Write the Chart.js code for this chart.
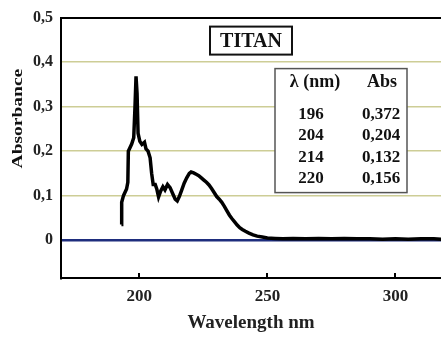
<!DOCTYPE html>
<html>
<head>
<meta charset="utf-8">
<script src="https://cdn.jsdelivr.net/npm/chart.js@4.4.1/dist/chart.umd.min.js"></script>
<style>
  html, body { margin: 0; padding: 0; background: #fff; }
  #wrap { width: 441px; height: 338px; }
</style>
</head>
<body>
<div id="wrap"><canvas id="spectrum" width="441" height="338"></canvas></div>
<script>
// spectrum
var wavelength = [193.0, 193.1, 193.8, 195.0, 195.5, 195.7, 197.0, 197.8, 198.3, 198.7,
  199.1, 199.5, 200.2, 201.0, 202.0, 202.6, 203.4, 204.2, 204.8, 205.4,
  206.2, 206.8, 207.5, 208.3, 209.2, 210.0, 211.0, 212.0, 213.0, 214.0,
  214.8, 215.6, 216.5, 217.5, 218.5, 219.5, 220.2, 221.2, 222.2, 223.2,
  224.2, 225.2, 226.2, 227.2, 228.2, 229.2, 230.2, 231.2, 232.2, 233.2,
  234.2, 235.2, 236.2, 237.2, 238.2, 239.2, 240.2, 241.4, 242.8, 244.4,
  246, 248, 250, 253, 256, 260, 265, 270, 275, 280, 285, 290, 295, 300, 305, 310, 315, 318];
var absorbance = [0.035, 0.085, 0.10, 0.115, 0.13, 0.20, 0.216, 0.23, 0.30, 0.368,
  0.33, 0.24, 0.222, 0.215, 0.22, 0.205, 0.20, 0.185, 0.15, 0.125,
  0.125, 0.115, 0.097, 0.11, 0.12, 0.113, 0.125, 0.118, 0.105, 0.092,
  0.088, 0.098, 0.112, 0.128, 0.14, 0.15, 0.153, 0.151, 0.148, 0.145,
  0.14, 0.135, 0.13, 0.124, 0.116, 0.107, 0.098, 0.092, 0.085, 0.076,
  0.066, 0.056, 0.048, 0.041, 0.034, 0.028, 0.024, 0.02, 0.016, 0.012,
  0.009, 0.007, 0.005, 0.004, 0.003, 0.004, 0.003, 0.004, 0.003, 0.004, 0.003, 0.003, 0.002, 0.003, 0.002, 0.003, 0.003, 0.002];

var xTicks = [200, 250, 300];
var yTicks = [0, 0.1, 0.2, 0.3, 0.4, 0.5];

var sampleName = 'TITAN';
var tableHead = ['λ (nm)', 'Abs'];
var tableWl = ['196', '204', '214', '220'];
var tableAbs = ['0,372', '0,204', '0,132', '0,156'];

var serif = '"Liberation Serif", "DejaVu Serif", serif';

var points = wavelength.map(function (w, i) { return { x: w, y: absorbance[i] }; });

// tick marks pointing up into the plot, text boxes
var extras = {
  id: 'extras',
  afterDatasetsDraw: function (chart) {
    var c = chart.ctx, a = chart.chartArea, xs = chart.scales.x;
    c.save();
    c.strokeStyle = '#000';
    c.lineWidth = 2;
    xTicks.forEach(function (t) {
      var px = Math.round(xs.getPixelForValue(t));
      c.beginPath();
      c.moveTo(px, a.bottom);
      c.lineTo(px, a.bottom - 5);
      c.stroke();
    });

    // sample name box
    c.fillStyle = '#fff';
    c.fillRect(a.left + 149, a.top + 9, 82, 28);
    c.strokeStyle = '#111';
    c.lineWidth = 2;
    c.strokeRect(a.left + 149, a.top + 9, 82, 28);
    c.fillStyle = '#111';
    c.font = 'bold 20px ' + serif;
    c.textAlign = 'center';
    c.textBaseline = 'middle';
    c.fillText(sampleName, a.left + 190, a.top + 24);

    // values table
    var tx = a.left + 214, ty = a.top + 51;
    c.fillStyle = '#fff';
    c.fillRect(tx, ty, 132, 124);
    c.strokeStyle = '#555';
    c.lineWidth = 1.5;
    c.strokeRect(tx, ty, 132, 124);
    c.fillStyle = '#111';
    c.font = 'bold 18px ' + serif;
    c.fillText(tableHead[0], tx + 40, ty + 14);
    c.fillText(tableHead[1], tx + 107, ty + 14);
    c.font = 'bold 17px ' + serif;
    tableWl.forEach(function (w, i) {
      var yy = ty + 46 + i * 21.5;
      c.fillText(w, tx + 36, yy);
      c.fillText(tableAbs[i], tx + 106, yy);
    });

    // y axis title
    c.save();
    c.translate(18, a.top + 101);
    c.rotate(-Math.PI / 2);
    c.scale(1.3, 1);
    c.font = 'bold 15px ' + serif;
    c.fillText('Absorbance', 0, 0);
    c.restore();
    c.restore();
  }
};

var ctx = document.getElementById('spectrum');
var spectrum = new Chart(ctx, {
  type: 'line',
  data: {
    datasets: [{
      label: 'TITAN',
      data: points,
      borderColor: '#000',
      borderWidth: 3.5,
      pointRadius: 0,
      tension: 0,
      fill: false
    }]
  },
  options: {
    responsive: false,
    animation: false,
    layout: { padding: { top: 16, right: 0, left: 0, bottom: 0 } },
    plugins: { legend: { display: false }, tooltip: { enabled: false } },
    scales: {
      x: {
        type: 'linear',
        min: 169.4,
        max: 317.8,
        afterBuildTicks: function (s) { s.ticks = xTicks.map(function (v) { return { value: v }; }); },
        afterFit: function (s) { s.height = 60; },
        grid: { drawOnChartArea: false, drawTicks: false },
        border: { color: '#000', width: 2 },
        ticks: {
          padding: 8,
          color: '#222',
          font: { family: serif, size: 17, weight: 'bold' },
          callback: function (v) { return String(v); }
        },
        title: {
          display: true,
          text: 'Wavelength nm',
          color: '#222',
          font: { family: serif, size: 19, weight: 'bold' },
          padding: { top: 4, bottom: 4 }
        }
      },
      y: {
        min: -0.085,
        max: 0.5,
        afterBuildTicks: function (s) { s.ticks = yTicks.map(function (v) { return { value: v }; }); },
        afterFit: function (s) { s.width = 61; },
        grid: {
          drawTicks: false,
          color: function (c) {
            if (c.tick.value === 0) return 'rgb(30,45,125)';
            if (c.tick.value === 0.5) return '#000';
            return 'rgb(205,205,150)';
          },
          lineWidth: function (c) {
            if (c.tick.value === 0) return 2.5;
            if (c.tick.value === 0.5) return 2;
            return 1.5;
          }
        },
        border: { color: '#000', width: 2 },
        ticks: {
          padding: 8,
          color: '#222',
          font: { family: serif, size: 16, weight: 'bold' },
          callback: function (v) { return v === 0 ? '0' : v.toFixed(1).replace('.', ','); }
        }
      }
    }
  },
  plugins: [extras]
});
</script>
</body>
</html>
